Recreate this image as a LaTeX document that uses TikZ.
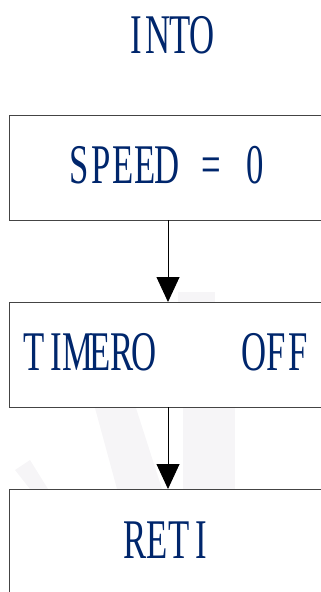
\documentclass[tikz,border=0pt]{standalone}
\usepackage{fontspec}
\setmainfont{Liberation Serif}
\usepackage{graphicx}
\usetikzlibrary{arrows.meta}
\definecolor{textnavy}{HTML}{00266C}
\definecolor{boxline}{HTML}{444444}
\definecolor{wmark}{HTML}{F6F5F7}
\newlength\cellw
\setlength\cellw{22pt}
\makeatletter
% fixed-pitch, narrow serif lettering: each character sits in its own cell
\newcommand\pitchtext[1]{\@tfor\pt@c:=#1\do{\makebox[\cellw]{\scalebox{0.62}[1]{\pt@c}}}}
\makeatother
\begin{document}
\begin{tikzpicture}[x=1pt,y=-1pt,
  label/.style={text=textnavy,font=\fontsize{56}{56}\selectfont,inner sep=0pt,anchor=center},
  stepbox/.style={draw=boxline,line width=0.9pt},
  flow/.style={draw=black,line width=0.9pt,-{Triangle[length=25pt,width=23pt]}}]
\useasboundingbox (0,0) rectangle (321,592);
% faint background marks
\fill[wmark] (95,408) -- (136,408) -- (162,489) -- (117,489) -- cycle;
\fill[wmark] (183,408) -- (235,408) -- (235,489) -- (183,489) -- cycle;
\fill[wmark] (178,292) -- (215,292) -- (215,302) -- (178,302) -- cycle;
\fill[wmark] (15,470) -- (30,460) -- (48,489) -- (30,489) -- cycle;
% boxes (right side runs off the page)
\path[stepbox] (330,115) -- (9,115) -- (9,220) -- (330,220);
\path[stepbox] (330,302) -- (9,302) -- (9,407) -- (330,407);
\path[stepbox] (330,489) -- (9,489) -- (9,600);
\coordinate (b1bot) at (168,220);
\coordinate (b2top) at (168,302);
\coordinate (b2bot) at (168,407);
\coordinate (b3top) at (168,489);
% labels
\node[label] (into) at (169,35) {\pitchtext{INTO}};
\node[label] (speed) at (167,165.5) {\pitchtext{SPEED~=~0}};
\node[label] (timer) at (166,352.5) {\pitchtext{TIMERO~~~~OFF}};
\node[label] (reti) at (168,540) {\pitchtext{RETI}};
% connectors
\draw[flow] (b1bot) -- (b2top);
\draw[flow] (b2bot) -- (b3top);
\end{tikzpicture}
\end{document}
